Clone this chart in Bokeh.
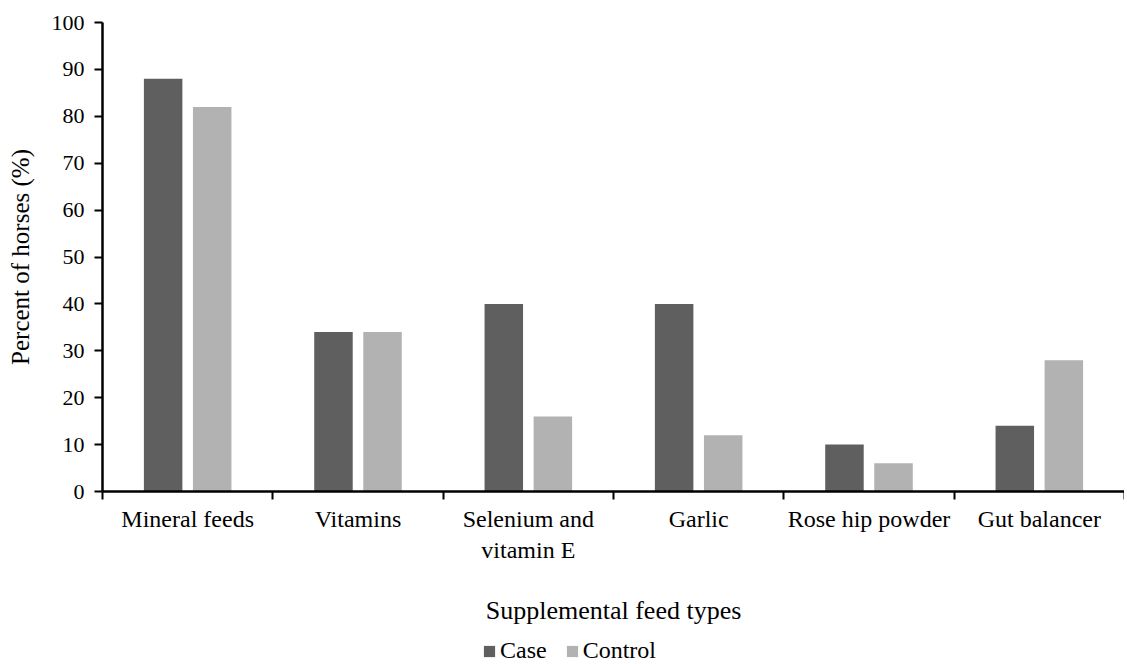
from bokeh.plotting import figure
from bokeh.layouts import column
from bokeh.models import (ColumnDataSource, FixedTicker, Range1d, Legend, LegendItem, Label)
from bokeh.embed import file_html
from bokeh.resources import INLINE

categories = ["Mineral feeds", "Vitamins", "Selenium and\nvitamin E", "Garlic",
              "Rose hip powder", "Gut balancer"]
case_values = [88, 34, 40, 40, 10, 14]
control_values = [82, 34, 16, 12, 6, 28]
series_names = ["Case", "Control"]
y_ticks = [0, 10, 20, 30, 40, 50, 60, 70, 80, 90, 100]
x_title = "Supplemental feed types"
y_title = "Percent of horses (%)"

FONT = "Liberation Serif"
DARK = "#5f5f5f"
LIGHT = "#b2b2b2"

n = len(categories)
centers = [i + 0.5 for i in range(n)]
offset = 0.144
bw = 0.226

src = ColumnDataSource(dict(
    x_case=[c - offset for c in centers],
    x_ctrl=[c + offset for c in centers],
    case=case_values,
    ctrl=control_values,
))

p = figure(frame_width=1022, frame_height=469, output_backend="svg", toolbar_location=None,
           x_range=Range1d(0, n), y_range=Range1d(0, 100),
           min_border_left=102, min_border_top=22, min_border_right=0,
           min_border_bottom=0)
p.outline_line_color = None
p.xgrid.grid_line_color = None
p.ygrid.grid_line_color = None
p.background_fill_color = "white"
p.border_fill_color = "white"

r1 = p.vbar(x="x_case", top="case", width=bw, bottom=0, source=src,
            fill_color=DARK, line_color=None)
r2 = p.vbar(x="x_ctrl", top="ctrl", width=bw, bottom=0, source=src,
            fill_color=LIGHT, line_color=None)

# x axis
xa = p.xaxis[0]
xa.ticker = FixedTicker(ticks=centers, minor_ticks=list(range(n + 1)))
xa.major_label_overrides = {c: lab for c, lab in zip(centers, categories)}
xa.major_tick_line_color = None
xa.major_tick_out = 0
xa.major_tick_in = 0
xa.minor_tick_line_color = "black"
xa.minor_tick_line_width = 2
xa.minor_tick_out = 8
xa.minor_tick_in = 0
xa.axis_line_width = 2.5
xa.axis_line_color = "black"
xa.major_label_text_font = FONT
xa.major_label_text_font_size = "24px"
xa.major_label_text_color = "black"
xa.major_label_standoff = 6

# y axis
ya = p.yaxis[0]
ya.ticker = FixedTicker(ticks=y_ticks)
ya.minor_tick_line_color = None
ya.major_tick_line_color = "black"
ya.major_tick_line_width = 2
ya.major_tick_out = 8
ya.major_tick_in = 0
ya.axis_line_width = 2.5
ya.axis_line_color = "black"
ya.major_label_text_font = FONT
ya.major_label_text_font_size = "22px"
ya.major_label_text_color = "black"
ya.major_label_standoff = 10
ya.axis_label = y_title
ya.axis_label_text_font = FONT
ya.axis_label_text_font_style = "normal"
ya.axis_label_text_font_size = "25px"
ya.axis_label_text_color = "black"
ya.axis_label_standoff = 15

# bottom strip: x-axis title and legend
p2 = figure(frame_width=1022, frame_height=99, output_backend="svg", toolbar_location=None,
            x_range=Range1d(0, n), y_range=Range1d(1000, 1100),
            min_border_left=102, min_border_top=0, min_border_right=0,
            min_border_bottom=0)
p2.axis.visible = False
p2.grid.visible = False
p2.outline_line_color = None
p2.background_fill_color = "white"
p2.border_fill_color = "white"

d1 = p2.vbar(x="x_case", top="case", width=bw, bottom=0, source=src,
             fill_color=DARK, line_color=None)
d2 = p2.vbar(x="x_ctrl", top="ctrl", width=bw, bottom=0, source=src,
             fill_color=LIGHT, line_color=None)

p2.add_layout(Label(x=n / 2, y=54, y_units="screen", text=x_title,
                    text_align="center", text_baseline="middle",
                    text_font=FONT, text_font_size="26px", text_color="black"))

legend = Legend(items=[LegendItem(label=series_names[0], renderers=[d1]),
                       LegendItem(label=series_names[1], renderers=[d2])],
                orientation="horizontal", location=(380, 0),
                label_text_font=FONT, label_text_font_size="24px",
                label_text_color="black",
                glyph_width=14, glyph_height=14, label_standoff=4,
                spacing=18, padding=0, margin=0,
                border_line_color=None, background_fill_alpha=0)
p2.add_layout(legend)

layout = column(p, p2, spacing=0)
open("out.html", "w").write(file_html(layout, INLINE))
